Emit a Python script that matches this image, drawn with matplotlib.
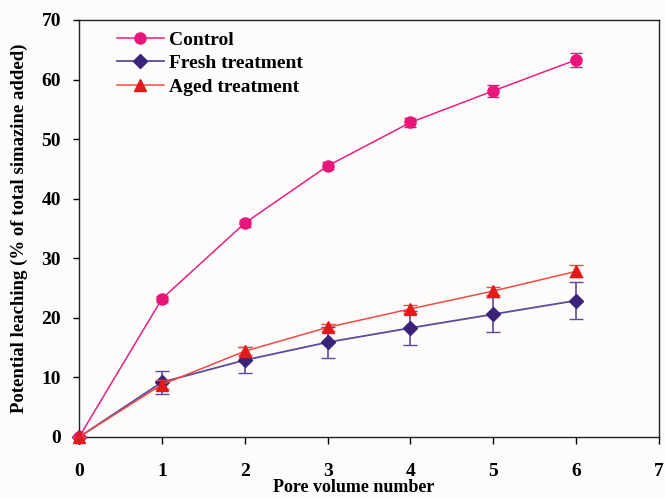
import matplotlib.pyplot as plt
from matplotlib.lines import Line2D

# pore volume number
pore_volume = [0, 1, 2, 3, 4, 5, 6]

# potential leaching (% of total simazine added)
control = [0, 23.2, 35.9, 45.5, 52.8, 58.1, 63.3]
control_err = [0, 0.5, 0.6, 0.6, 0.7, 1.0, 1.2]

fresh = [0, 9.2, 12.9, 15.9, 18.3, 20.6, 22.9]
fresh_err = [0, 1.9, 2.2, 2.6, 2.8, 2.9, 3.1]

aged = [0, 8.8, 14.4, 18.4, 21.5, 24.5, 27.8]
aged_err = [0, 0.7, 0.7, 0.6, 0.7, 0.6, 1.0]

labels = ["Control", "Fresh treatment", "Aged treatment"]

plt.rcParams["font.family"] = ["Liberation Serif", "DejaVu Serif"]
plt.rcParams["font.weight"] = "bold"

bg = "#fefbfb"
fig = plt.figure(figsize=(6.65, 4.98), dpi=100, facecolor=bg)
ax = fig.add_axes([0.119, 0.1225, 0.872, 0.8375], facecolor=bg)

styles = [
    dict(color="#ea1e84", marker="o", ms=8, mc="#e8157a", ec="#e8157a", lw=1.1, cap=4),
    dict(color="#5b4a9e", marker="D", ms=7.5, mc="#3a2378", ec="#5b4a9e", lw=1.3, cap=5),
    dict(color="#f04a45", marker="^", ms=8.5, mc="#e01b1b", ec="#f04a45", lw=1.1, cap=5),
]
series = [(control, control_err), (fresh, fresh_err), (aged, aged_err)]
order = [3, 2, 4]

handles = []
for (vals, errs), st, lab, z in zip(series, styles, labels, order):
    cont = ax.errorbar(pore_volume, vals, yerr=errs, color=st["color"], lw=st["lw"],
                       marker=st["marker"], ms=st["ms"], mfc=st["mc"], mec=st["mc"],
                       ecolor=st["ec"], capsize=st["cap"], elinewidth=1.2, zorder=z)
    for art in cont.get_children():
        art.set_clip_on(False)
    handles.append(Line2D([], [], color=st["color"], lw=st["lw"], marker=st["marker"],
                          ms=st["ms"], mfc=st["mc"], mec=st["mc"], label=lab))

ax.set_xlim(0, 7)
ax.set_ylim(0, 70)
ax.set_xticks(range(0, 8))
ax.set_yticks(range(0, 80, 10))

for s in ax.spines.values():
    s.set_color("#222222")
    s.set_linewidth(1.0)

ax.tick_params(axis="x", direction="out", length=5, width=1, pad=14, labelsize=14)
ax.tick_params(axis="y", direction="out", length=4, width=1, pad=9, labelsize=14)
for lab in ax.get_xticklabels() + ax.get_yticklabels():
    lab.set_fontweight("bold")

ax.set_xlabel("Pore volume number", fontsize=13, fontweight="bold")
ax.xaxis.set_label_coords(0.474, -0.1)
ax.set_ylabel("Potential leaching (% of total simazine added)", fontsize=13.5,
              fontweight="bold")
ax.yaxis.set_label_coords(-0.088, 0.5)

ax.legend(handles=handles, loc="upper left", bbox_to_anchor=(0.035, 1.015), frameon=False,
          prop={"size": 14, "weight": "bold"}, handlelength=2.4,
          labelspacing=0.3, handletextpad=0.3)

fig.savefig("out.png", dpi=100, facecolor=bg)
